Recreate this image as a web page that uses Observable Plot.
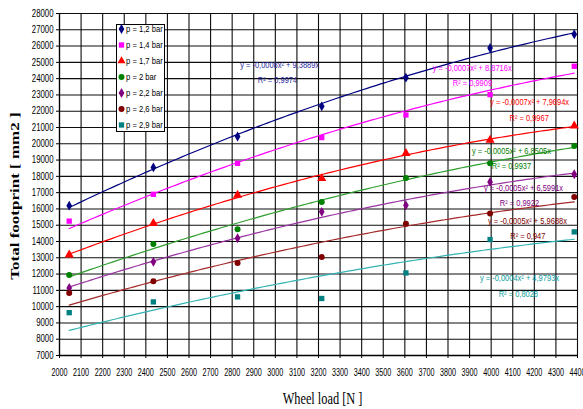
<!DOCTYPE html>
<html><head><meta charset="utf-8">
<script src="https://cdn.jsdelivr.net/npm/d3@7"></script>
<script src="https://cdn.jsdelivr.net/npm/@observablehq/plot@0.6"></script>
<style>
body{margin:0;background:#fff;}
#chart{position:relative;width:583px;height:409px;}
</style></head><body><div id="chart"></div>
<script>
// ---- data ----
const wheelLoad = [2045, 2435, 2825, 3215, 3605, 3995, 4385];
const seriesNames = ["p = 1,2 bar","p = 1,4 bar","p = 1,7 bar","p = 2 bar","p = 2,2 bar","p = 2,6 bar","p = 2,9 bar"];
const p12 = [16200, 18550, 20450, 22300, 24060, 25880, 26730];
const p14 = [15250, 16900, 18800, 20380, 21770, 23020, 24760];
const p17 = [13180, 15120, 16850, 17870, 19410, 20230, 21100];
const p20 = [11940, 13850, 14750, 16430, 17900, 18800, 19870];
const p22 = [11150, 12750, 14200, 15820, 16220, 17660, 18130];
const p26 = [10840, 11560, 12680, 13050, 15090, 15720, 16740];
const p29 = [9630, 10290, 10600, 10500, 12070, 14120, 14590];
const seriesValues = [p12, p14, p17, p20, p22, p26, p29];
const markerColors = ["#000080","#ff00ff","#ff0000","#008000","#800080","#800000","#008080"];
const lineColors   = ["#000080","#ff00ff","#ff0000","#2e9e2e","#9933a0","#a52a2a","#33b3b3"];
const textColors   = ["#2b2ba0","#ff00ff","#ff0000","#008000","#800080","#800000","#0aa0a0"];
const symbols = ["diamond","square","triangle","circle","diamond","circle","square"];
const equations = ["y = -0,0008x² + 9,3889x","y = -0,0007x² + 8,8716x","y = -0,0007x² + 7,9694x","y = -0,0005x² + 6,8505x","y = -0,0005x² + 6,5991x","y = -0,0005x² + 5,9688x","y = -0,0004x² + 4,9793x"];
const rSquared = ["R² = 0,9974","R² = 0,9909","R² = 0,9967","R² = 0,9937","R² = 0,9922","R² = 0,947","R² = 0,8028"];
const eqX = [3020, 3912, 4178, 4094, 4150, 4168, 4131];
const eqY = [24820, 24660, 22570, 19560, 17250, 15245, 11730];
const r2X = [3010, 3913, 4176, 4094, 4131, 4170, 4126];
const r2Y = [23900, 23735, 21550, 18640, 16370, 14325, 10745];
const xTicks = d3.range(2000, 4401, 100);
const yTicks = d3.range(7000, 28001, 1000);

// quadratic trend through origin (y = a x^2 + b x), least squares
function fitQuad(xs, ys){
  let s4=0,s3=0,s2=0,t2=0,t1=0;
  xs.forEach((x0,i)=>{const x=x0/1000,y=ys[i];s4+=x**4;s3+=x**3;s2+=x*x;t2+=x*x*y;t1+=x*y;});
  const det=s4*s2-s3*s3, a=(t2*s2-t1*s3)/det, b=(s4*t1-s3*t2)/det;
  return x=>{const u=x/1000;return a*u*u+b*u;};
}

const marks = [
  Plot.ruleX(xTicks, {stroke:"#000", strokeWidth:1.1, strokeOpacity:0.95}),
  Plot.ruleY(yTicks, {stroke:"#000", strokeWidth:1.1, strokeOpacity:0.95})
];
seriesValues.forEach((vals, s) => {
  const f = fitQuad(wheelLoad, vals);
  const xs = d3.range(wheelLoad[0], wheelLoad[wheelLoad.length-1], 20).concat([wheelLoad[wheelLoad.length-1]]);
  const trend = xs.map(x => ({x, y: f(x)}));
  marks.push(Plot.line(trend, {x:"x", y:"y", stroke: lineColors[s], strokeWidth:1.2}));
});
seriesValues.forEach((vals, s) => {
  const pts = wheelLoad.map((x,i)=>({x, y: vals[i]}));
  marks.push(Plot.dot(pts, {x:"x", y:"y", symbol: symbols[s], fill: markerColors[s], stroke:"none", r: symbols[s]==="triangle"?3.4:3}));
});
seriesValues.forEach((vals, s) => {
  marks.push(Plot.text([0], {x: () => eqX[s], y: () => eqY[s], text: () => equations[s], fill: textColors[s], fontSize: 8.5}));
  marks.push(Plot.text([0], {x: () => r2X[s], y: () => r2Y[s], text: () => rSquared[s], fill: textColors[s], fontSize: 8.5}));
});

const svg = Plot.plot({
  width: 583, height: 409,
  marginLeft: 59, marginRight: 6, marginTop: 13, marginBottom: 54,
  style: {fontFamily: "'Liberation Sans', Arial, sans-serif", fontSize: "10px", color: "#000", background: "#fff"},
  x: {domain: [2000, 4400], ticks: xTicks, tickFormat: d => String(d), tickSize: 3, tickPadding: 10, label: null},
  y: {domain: [7000, 28000], ticks: yTicks, tickFormat: d => String(d), tickSize: 3, tickPadding: 3, label: null},
  marks
});
document.getElementById("chart").appendChild(svg);

function squeeze(nodes, k){
  nodes.forEach(t => {
    const L = t.getComputedTextLength();
    if (L > 0) { t.setAttribute("textLength", (L*k).toFixed(2)); t.setAttribute("lengthAdjust", "spacingAndGlyphs"); }
  });
}
const sel = d3.select(svg);
squeeze(svg.querySelectorAll('[aria-label^="y-axis"] text'), 0.78);
squeeze(svg.querySelectorAll('[aria-label^="x-axis"] text'), 0.72);
squeeze(svg.querySelectorAll('g[aria-label="text"] text'), 0.88);

// axis lines
sel.append("line").attr("x1",59.5).attr("x2",59.5).attr("y1",13).attr("y2",356).attr("stroke","#000").attr("stroke-width",1.3);
sel.append("line").attr("x1",59).attr("x2",578).attr("y1",355.5).attr("y2",355.5).attr("stroke","#000").attr("stroke-width",1.3);

// legend
const lg = sel.append("g").attr("text-anchor","start");
lg.append("rect").attr("x",116.5).attr("y",24.5).attr("width",48).attr("height",107).attr("fill","#fff").attr("stroke","#000");
const symMap = {diamond: d3.symbolDiamond, square: d3.symbolSquare, triangle: d3.symbolTriangle, circle: d3.symbolCircle};
seriesNames.forEach((name, i) => {
  const cy = 29 + 16*i;
  lg.append("path").attr("d", d3.symbol(symMap[symbols[i]], Math.PI*9)()).attr("transform", `translate(121.5,${cy})`).attr("fill", markerColors[i]);
  lg.append("text").attr("x",126).attr("y",cy).attr("dy","0.35em").attr("text-anchor","start").attr("font-size",9).attr("fill","#000").text(name);
});
squeeze(lg.selectAll("text").nodes(), 0.85);

// axis titles
sel.append("text").attr("transform","translate(18.5,196) rotate(-90) scale(1,0.77)")
  .attr("text-anchor","middle").attr("font-family","'Liberation Serif', 'Times New Roman', serif")
  .attr("font-weight","bold").attr("font-size",17).attr("fill","#000").text("Total footprint [ mm2 ]");
const xt = sel.append("text").attr("x",322.5).attr("y",404).attr("text-anchor","middle")
  .attr("font-family","'Liberation Serif', 'Times New Roman', serif").attr("font-size",16).attr("fill","#000").text("Wheel load [N ]");
squeeze([xt.node()], 0.77);
</script>
</body></html>
